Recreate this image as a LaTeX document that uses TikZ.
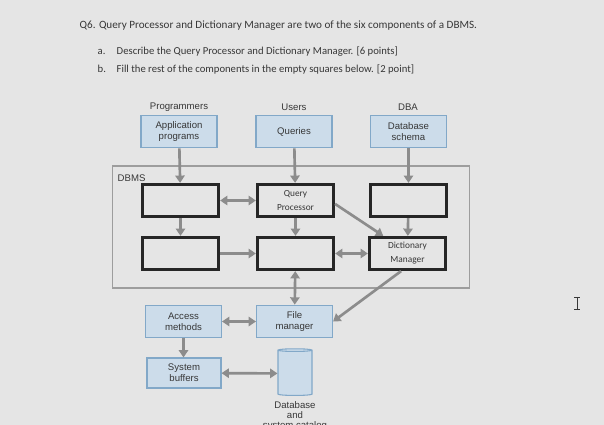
\documentclass[tikz,border=0pt]{standalone}
\usepackage{fontspec}
\setmainfont{Carlito}
\newfontfamily\figfont{Liberation Sans}
\usetikzlibrary{positioning,arrows.meta,shapes.geometric}
\definecolor{paper}{RGB}{229,229,229}
\definecolor{boxfill}{RGB}{204,220,234}
\definecolor{boxline}{RGB}{130,168,200}
\definecolor{arrowgray}{RGB}{140,140,140}
\definecolor{ink}{RGB}{55,55,55}

\begin{document}
\begin{tikzpicture}[x=0.75pt,y=-0.75pt,font=\figfont\fontsize{7.2}{8.3}\selectfont,
  inbox/.style={draw=boxline, fill=boxfill, line width=0.8pt, minimum width=57pt, minimum height=24.5pt, align=center, text=ink, inner sep=1pt},
  comp/.style={draw=black!85, line width=2.4pt, minimum width=57pt, minimum height=24pt, align=center, text=ink, font=\rmfamily\fontsize{7}{10.5}\selectfont},
  question/.style={anchor=base west, text=ink, font=\rmfamily\fontsize{8}{9}\selectfont},
  sig/.style={-{Triangle[length=5.5pt,width=7pt]}, line width=2pt, arrowgray},
  sigboth/.style={{Triangle[length=5.5pt,width=7pt]}-{Triangle[length=5.5pt,width=7pt]}, line width=2pt, arrowgray}]
\fill[paper] (0,0) rectangle (604,425);
\useasboundingbox (0,0) rectangle (604,425);
% question text
\node[question, font=\rmfamily\fontsize{8.35}{9}\selectfont] (q6) at (75,28) {Q6. Query Processor and Dictionary Manager are two of the six components of a DBMS.};
\node[question] (qa) at (93,54) {a.};
\node[question] (qatext) at (112,54) {Describe the Query Processor and Dictionary Manager. [6 points]};
\node[question] (qb) at (93,72) {b.};
\node[question] (qbtext) at (112,72) {Fill the rest of the components in the empty squares below. [2 point]};
% users
\node[text=ink] (prog) at (179,107) {Programmers};
\node[text=ink] (users) at (294,107) {Users};
\node[text=ink] (dba) at (408,107) {DBA};
\node[inbox] (app) at (179,131.5) {Application\\programs};
\node[inbox] (qry) at (294,131.5) {Queries};
\node[inbox] (sch) at (408.5,131.5) {Database\\schema};
% dbms
\node[draw=arrowgray!85, line width=1.1pt, minimum width=268pt, minimum height=91.5pt] (dbms) at (291,227) {};
\node[anchor=west, text=ink] (dbmslbl) at (113,178) {DBMS};
\node[comp] (c1) at (180.5,200.5) {};
\node[comp] (qp) at (295.5,200.5) {Query\\Processor};
\node[comp] (c3) at (408.5,200.5) {};
\node[comp] (c4) at (180.5,253.5) {};
\node[comp] (c5) at (295.5,253.5) {};
\node[comp] (dm) at (407.5,253.5) {Dictionary\\Manager};
% storage side
\node[inbox] (am) at (183.5,321.5) {Access\\methods};
\node[inbox] (fm) at (294.5,321.5) {File\\manager};
\node[inbox, minimum width=55.5pt, minimum height=22.5pt] (sb) at (184,373) {System\\buffers};
\node[draw=boxline, fill=boxfill, line width=0.8pt, cylinder, shape border rotate=90, aspect=0.3, minimum width=25.5pt, minimum height=35pt] (db) at (295,373.5) {};
\node[below=1pt of db, align=center, text=ink, font=\figfont\fontsize{7.2}{7.5}\selectfont] (dblbl) {Database\\and\\system catalog};
\draw[sig] (app) -- (c1);
\draw[sig] (qry) -- (qp);
\draw[sig] (sch) -- (c3);
\draw[sigboth] (c1) -- (qp);
\draw[sig] (c1) -- (c4);
\draw[sig] (qp) -- (c5);
\draw[sig] (c3) -- (dm);
\draw[sig] (qp.-5) -- (dm.144);
\draw[sig] (c4) -- (c5);
\draw[sigboth] (c5) -- (dm);
\draw[sigboth] (c5) -- (fm);
\draw[sig] (dm.-110) -- (fm.east);
\draw[sigboth] (am) -- (fm);
\draw[sig] (am) -- (am |- sb.north);
\draw[sigboth] (sb) -- (db);
% cursor
\draw[ink, line width=0.6pt] (574,297) -- (580,297) (577,297) -- (577,309) (574,309) -- (580,309);
\end{tikzpicture}
\end{document}
